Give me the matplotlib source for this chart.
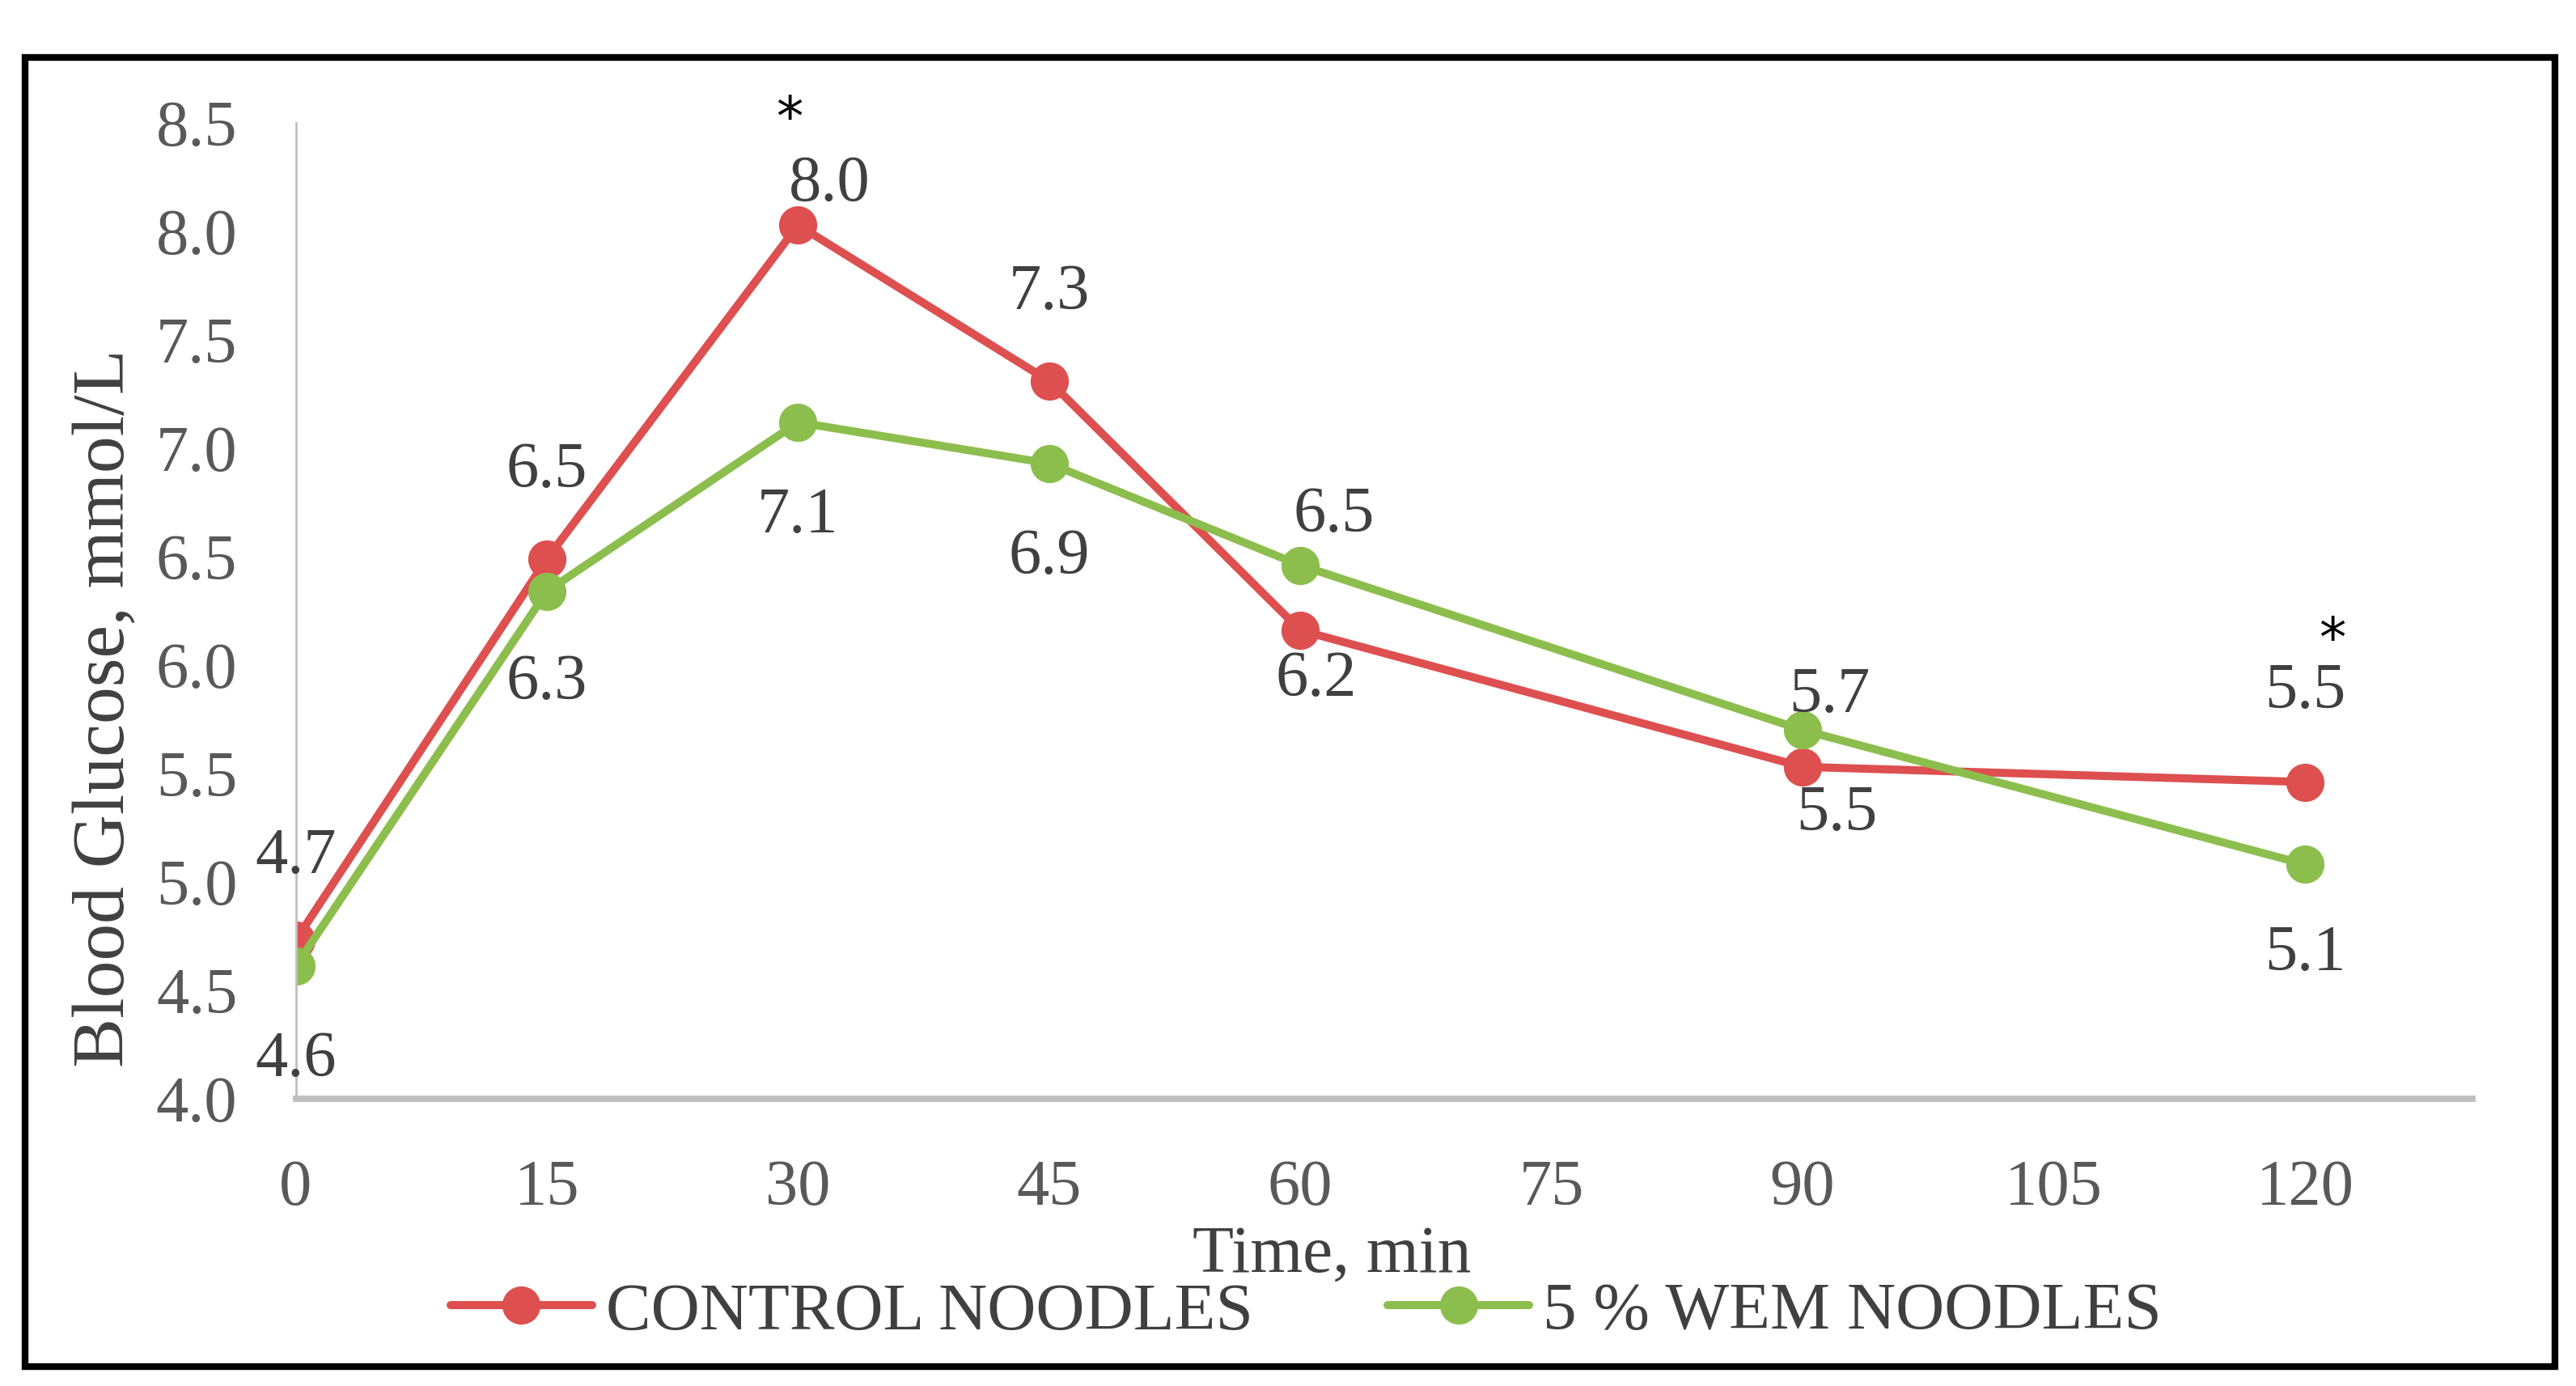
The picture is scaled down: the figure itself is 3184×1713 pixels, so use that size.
import matplotlib.pyplot as plt
from matplotlib.patches import Rectangle

# time points (min) and mean blood glucose (mmol/L)
times = [0, 15, 30, 45, 60, 90, 120]
control = [4.73, 6.49, 8.03, 7.31, 6.16, 5.53, 5.46]
wem = [4.61, 6.34, 7.12, 6.93, 6.46, 5.70, 5.08]
series_names = ['CONTROL NOODLES', '5 % WEM NOODLES']
x_ticks = [0, 15, 30, 45, 60, 75, 90, 105, 120]
y_ticks = [4.0, 4.5, 5.0, 5.5, 6.0, 6.5, 7.0, 7.5, 8.0, 8.5]
star_times = [30, 120]  # significant differences

# label offsets in points (dx, dy)
control_offsets = [(0, 37), (0, 39), (14, 18), (0, 39), (7, -22), (15, -21), (0, 40)]
wem_offsets = [(0, -42), (0, -41), (0, -42), (0, -42), (15, 22), (12, 15), (0, -40)]
star_offsets = [(-4, 47), (12, 63)]

RED = '#DE4F4F'
GREEN = '#8CBE4E'
TXT = '#404040'

plt.rcParams['font.family'] = ['Liberation Serif', 'DejaVu Serif']

fig = plt.figure(figsize=(15.92, 8.565), dpi=200)
ax = fig.add_axes([0.1148, 0.2075, 0.9598 - 0.1148, 0.9111 - 0.2075])

ax.plot(times, control, color=RED, lw=3.6, marker='o', ms=16, label=series_names[0],
        solid_capstyle='round')
ax.plot(times, wem, color=GREEN, lw=3.6, marker='o', ms=16, label=series_names[1],
        solid_capstyle='round')

for t, v, off in zip(times, control, control_offsets):
    ax.annotate(f'{v:.1f}', (t, v), xytext=off, textcoords='offset points',
                ha='center', va='center', fontsize=29, color=TXT)
for t, v, off in zip(times, wem, wem_offsets):
    ax.annotate(f'{v:.1f}', (t, v), xytext=off, textcoords='offset points',
                ha='center', va='center', fontsize=29, color=TXT)
for t, off in zip(star_times, star_offsets):
    v = control[times.index(t)]
    ax.annotate('*', (t, v), xytext=off, textcoords='offset points',
                ha='center', va='center', fontsize=24, color='black',
                family='DejaVu Sans')

ax.set_xlim(0, 130)
ax.set_ylim(4.0, 8.5)
ax.set_xticks(x_ticks)
ax.set_yticks(y_ticks)
ax.set_yticklabels([f'{y:.1f}' for y in y_ticks])
ax.tick_params(length=0, labelsize=29, labelcolor='#595959')
ax.tick_params(axis='x', pad=27)
ax.tick_params(axis='y', pad=26)

for s in ['top', 'right']:
    ax.spines[s].set_visible(False)
ax.spines['left'].set_color('#BFBFBF')
ax.spines['left'].set_linewidth(1.0)
ax.spines['bottom'].set_color('#BFBFBF')
ax.spines['bottom'].set_linewidth(2.8)

ax.set_ylabel('Blood Glucose, mmol/L', fontsize=33, color=TXT)
ax.yaxis.set_label_coords(-0.072, 0.40)
fig.text(0.517, 0.094, 'Time, min', ha='center', va='center', fontsize=30, color=TXT)

fig.legend(loc='center', bbox_to_anchor=(0.507, 0.053), ncol=2, frameon=False,
           fontsize=30, handlelength=2.1, handletextpad=0.2, columnspacing=2.0,
           labelcolor=TXT)

# outer frame
fig.patches.append(Rectangle((0.0096, 0.014), 0.9821, 0.9445, transform=fig.transFigure,
                             fill=False, edgecolor='black', linewidth=3.0))

fig.savefig('out.png', dpi=200)
